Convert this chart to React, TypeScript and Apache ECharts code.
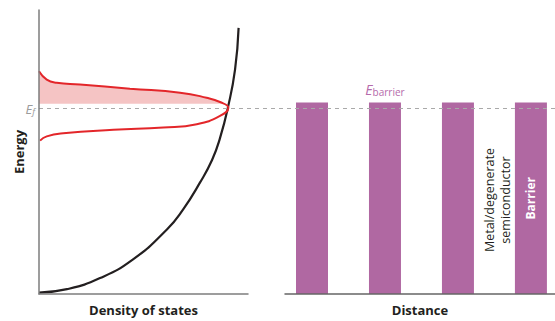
import React, { useEffect, useRef } from "react";
import * as echarts from "echarts";

// Density of states (black curve): x = DOS, y = energy
const DOS_X = [0, 13.4, 29.2, 45.0, 61.2, 68.9, 77.0, 82.8, 86.6, 90.4, 93.8, 95.5];
const DOS_E = [0.5, 1.7, 5.6, 12.2, 22.7, 29.7, 39.2, 47.2, 54.9, 65.7, 79.0, 93.7];

// Occupied-states curve (red), upper and lower branches
const UPPER_X = [0, 3.7, 8.5, 19.6, 43.5, 67.5, 80.2, 86.6, 90.6];
const UPPER_E = [78.4, 75.5, 74.4, 73.8, 72.3, 70.9, 69.1, 67.6, 65.6];
const LOWER_X = [86.6, 75.5, 59.5, 35.6, 11.6, 3.7, 0.5];
const LOWER_E = [62.7, 59.8, 58.6, 57.8, 56.6, 55.5, 54.0];

const FERMI_E = 65.6;
const FILL_BASE_E = 67.0;

// Barriers (right panel)
const BARRIER_POS = [1, 2, 3, 4];
const BARRIER_E = [67.4, 67.4, 67.4, 67.4];
const BARRIER_LABEL = ["", "energy", "", "name"];

const LEFT_X_NAME = "Density of states";
const LEFT_Y_NAME = "Energy";
const RIGHT_X_NAME = "Distance";
const REGION_TEXT = "Metal/degenerate\nsemiconductor";
const BARRIER_TEXT = "Barrier";

const FONT = '"Open Sans", "Noto Sans", sans-serif';

export default function App() {
  const ref = useRef<HTMLDivElement>(null);

  useEffect(() => {
    const chart = echarts.init(ref.current!, null, { renderer: "svg" });

    const pairs = (xs: number[], ys: number[]) => xs.map((x, i) => [x, ys[i]]);
    const upper = pairs(UPPER_X, UPPER_E);
    const lower = pairs(LOWER_X, LOWER_E);

    const axisLineStyle = { color: "#7d7d7d", width: 1.5 };
    const nameStyle = { fontFamily: FONT, fontWeight: "bold" as const, fontSize: 13, color: "#231f20" };

    const barData = BARRIER_POS.map((p, i) => {
      const kind = BARRIER_LABEL[i];
      let label: any = { show: false };
      if (kind === "energy") {
        label = {
          show: true,
          position: "top",
          distance: 6,
          formatter: "{e|E}{s|barrier}",
          rich: {
            e: { fontFamily: FONT, fontStyle: "italic", fontSize: 14, color: "#b56aab", verticalAlign: "bottom", lineHeight: 16 },
            s: { fontFamily: FONT, fontSize: 10, color: "#b56aab", verticalAlign: "bottom", lineHeight: 16, padding: [5, 0, 0, 0] },
          },
        };
      } else if (kind === "name") {
        label = {
          show: true,
          position: "inside",
          rotate: 90,
          formatter: BARRIER_TEXT,
          color: "#ffffff",
          fontFamily: FONT,
          fontWeight: "bold",
          fontSize: 12,
        };
      }
      return { value: [p, BARRIER_E[i]], label };
    });

    const option: any = {
      animation: false,
      backgroundColor: "#ffffff",
      grid: [
        { left: 39, top: 10, width: 209, height: 286 },
        { left: 285, top: 10, width: 270, height: 286 },
        { left: 39, top: 10, width: 516, height: 286 },
      ],
      xAxis: [
        {
          gridIndex: 0, type: "value", min: 0, max: 100, z: 5,
          axisLine: { show: true, lineStyle: axisLineStyle },
          axisTick: { show: false }, axisLabel: { show: false }, splitLine: { show: false },
          name: LEFT_X_NAME, nameLocation: "middle", nameGap: 9, nameTextStyle: nameStyle,
        },
        {
          gridIndex: 1, type: "value", min: 0.63, max: 4.33, z: 5,
          axisLine: { show: true, lineStyle: { color: "#666666", width: 1.5 } },
          axisTick: { show: false }, axisLabel: { show: false }, splitLine: { show: false },
          name: RIGHT_X_NAME, nameLocation: "middle", nameGap: 9, nameTextStyle: nameStyle,
        },
        { gridIndex: 2, type: "value", min: 0, max: 100, show: false },
      ],
      yAxis: [
        {
          gridIndex: 0, type: "value", min: 0, max: 100, z: 5,
          axisLine: { show: true, lineStyle: axisLineStyle },
          axisTick: { show: false }, axisLabel: { show: false }, splitLine: { show: false },
          name: LEFT_Y_NAME, nameLocation: "middle", nameRotate: 90, nameGap: 14, nameTextStyle: nameStyle,
        },
        { gridIndex: 1, type: "value", min: 0, max: 100, show: false },
        { gridIndex: 2, type: "value", min: 0, max: 100, show: false },
      ],
      series: [
        {
          type: "line", xAxisIndex: 0, yAxisIndex: 0, z: 1,
          data: upper, smooth: true, symbol: "none",
          lineStyle: { width: 0 },
          areaStyle: { color: "#f5c4c4", opacity: 1 },
          silent: true,
        },
        {
          type: "line", xAxisIndex: 0, yAxisIndex: 0, z: 2,
          data: [[0, FILL_BASE_E], [100, FILL_BASE_E]], symbol: "none",
          lineStyle: { width: 0 },
          areaStyle: { color: "#ffffff", opacity: 1 },
          silent: true,
        },
        {
          type: "line", xAxisIndex: 0, yAxisIndex: 0, z: 3,
          data: pairs(DOS_X, DOS_E), smooth: true, symbol: "none",
          lineStyle: { color: "#231f20", width: 2.2 },
        },
        {
          type: "line", xAxisIndex: 0, yAxisIndex: 0, z: 3,
          data: upper.concat(lower), smooth: true, symbol: "none",
          lineStyle: { color: "#e3262a", width: 2 },
        },
        {
          type: "bar", xAxisIndex: 1, yAxisIndex: 1,
          data: barData, barWidth: 32,
          itemStyle: { color: "#b068a2" },
        },
        {
          type: "line", xAxisIndex: 2, yAxisIndex: 2, z: 4,
          data: [[0, FERMI_E]], symbol: "none", lineStyle: { width: 0 },
          markLine: {
            silent: true,
            symbol: ["none", "none"],
            lineStyle: { color: "#a9a9a9", type: [4, 4], width: 1 },
            label: {
              show: true,
              position: "start",
              distance: 4,
              formatter: "{e|E}{s|f}",
              rich: {
                e: { fontFamily: FONT, fontStyle: "italic", fontSize: 13, color: "#9b9b9b", verticalAlign: "bottom", lineHeight: 15 },
                s: { fontFamily: FONT, fontStyle: "italic", fontSize: 9, color: "#9b9b9b", verticalAlign: "bottom", lineHeight: 15, padding: [5, 0, 0, 0] },
              },
            },
            data: [{ yAxis: FERMI_E }],
          },
        },
      ],
      graphic: [
        {
          type: "text",
          x: 497,
          y: 200,
          rotation: Math.PI / 2,
          style: {
            text: REGION_TEXT,
            fill: "#231f20",
            font: `12.5px ${FONT}`,
            align: "center",
            verticalAlign: "middle",
            lineHeight: 16,
          },
        },
      ],
    };

    chart.setOption(option);
    return () => chart.dispose();
  }, []);

  return (
    <div
      ref={ref}
      style={{ position: "absolute", left: 0, top: 0, width: 555, height: 321 }}
    />
  );
}
